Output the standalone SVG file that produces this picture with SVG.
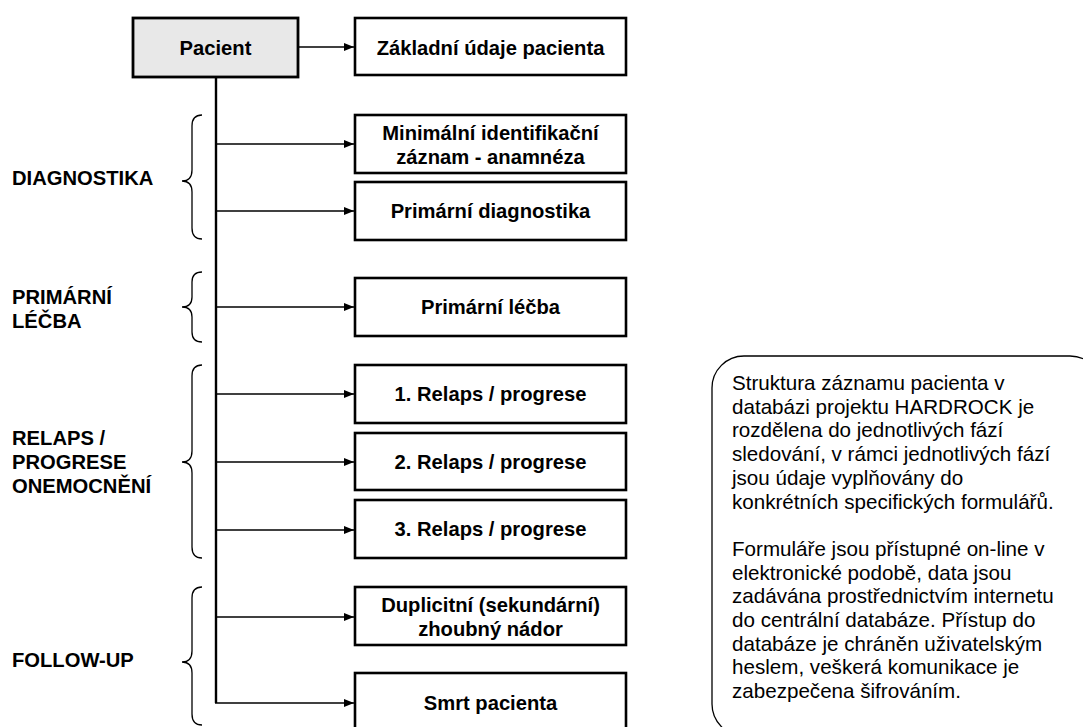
<svg xmlns="http://www.w3.org/2000/svg" width="1083" height="727" viewBox="0 0 1083 727">
<style>
.box{fill:#fff;stroke:#000;stroke-width:2.6}
.pac{fill:#e8e8e8;stroke:#000;stroke-width:2.8}
.bt{font-family:"Liberation Sans",Arial,sans-serif;font-weight:bold;font-size:20.2px;fill:#000;text-anchor:middle}
.lbl{font-family:"Liberation Sans",Arial,sans-serif;font-weight:bold;font-size:20.2px;fill:#000}
.note{font-family:"Liberation Sans",Arial,sans-serif;font-size:20.6px;fill:#000}
.con{fill:none;stroke:#000;stroke-width:1.6}
.trunk{fill:none;stroke:#000;stroke-width:2.4}
.brace{fill:none;stroke:#000;stroke-width:1.3}
</style>
<defs>
<marker id="ah" viewBox="0 0 10 8" refX="10" refY="4" markerWidth="10" markerHeight="8" markerUnits="userSpaceOnUse" orient="auto">
<path d="M0,0 L10,4 L0,8 Z" fill="#000"/>
</marker>
</defs>
<rect width="1083" height="727" fill="#fff"/>
<g id="connectors">
<line class="trunk" x1="216" y1="77" x2="216" y2="703"/>
<line class="con" x1="298" y1="47" x2="354" y2="47" marker-end="url(#ah)"/>
<line class="con" x1="216" y1="144" x2="354" y2="144" marker-end="url(#ah)"/>
<line class="con" x1="216" y1="211" x2="354" y2="211" marker-end="url(#ah)"/>
<line class="con" x1="216" y1="307" x2="354" y2="307" marker-end="url(#ah)"/>
<line class="con" x1="216" y1="394" x2="354" y2="394" marker-end="url(#ah)"/>
<line class="con" x1="216" y1="462" x2="354" y2="462" marker-end="url(#ah)"/>
<line class="con" x1="216" y1="530" x2="354" y2="530" marker-end="url(#ah)"/>
<line class="con" x1="216" y1="617" x2="354" y2="617" marker-end="url(#ah)"/>
<line class="con" x1="215" y1="703" x2="354" y2="703" marker-end="url(#ah)"/>
</g>
<g id="pacient"><rect class="pac" x="133" y="18" width="165" height="59"/><text class="bt" x="215.5" y="55">Pacient</text></g>
<g id="zakladni"><rect class="box" x="355" y="18" width="271" height="57"/><text class="bt" x="490.5" y="55">Základní údaje pacienta</text></g>
<g id="minimalni"><rect class="box" x="355" y="115" width="271" height="58"/><text class="bt" x="490.5" y="140">Minimální identifikační</text><text class="bt" x="490.5" y="164">záznam - anamnéza</text></g>
<g id="primdiag"><rect class="box" x="355" y="182" width="271" height="58"/><text class="bt" x="490.5" y="218">Primární diagnostika</text></g>
<g id="primlecba"><rect class="box" x="355" y="278" width="271" height="58"/><text class="bt" x="490.5" y="314">Primární léčba</text></g>
<g id="relaps1"><rect class="box" x="355" y="365" width="271" height="58"/><text class="bt" x="490.5" y="401">1. Relaps / progrese</text></g>
<g id="relaps2"><rect class="box" x="355" y="433" width="271" height="57"/><text class="bt" x="490.5" y="469">2. Relaps / progrese</text></g>
<g id="relaps3"><rect class="box" x="355" y="500" width="271" height="58"/><text class="bt" x="490.5" y="536">3. Relaps / progrese</text></g>
<g id="duplicitni"><rect class="box" x="355" y="587" width="271" height="58"/><text class="bt" x="490.5" y="612">Duplicitní (sekundární)</text><text class="bt" x="490.5" y="636">zhoubný nádor</text></g>
<g id="smrt"><rect class="box" x="355" y="673" width="271" height="58"/><text class="bt" x="490.5" y="710">Smrt pacienta</text></g>
<g id="braces">
<path class="brace" d="M202,115 Q192,115 192,126 L192,170 Q192,181 182,181 Q192,181 192,192 L192,228 Q192,239 202,239"/>
<path class="brace" d="M202,272 Q192,272 192,282 L192,297 Q192,307 182,307 Q192,307 192,317 L192,332 Q192,342 202,342"/>
<path class="brace" d="M202,365 Q192,365 192,376 L192,451 Q192,462 182,462 Q192,462 192,473 L192,547 Q192,558 202,558"/>
<path class="brace" d="M202,587 Q192,587 192,598 L192,651 Q192,662 182,662 Q192,662 192,673 L192,714 Q192,725 202,725"/>
</g>
<g id="labels">
<text class="lbl" x="12" y="185">DIAGNOSTIKA</text>
<text class="lbl" x="12" y="304">PRIMÁRNÍ</text>
<text class="lbl" x="12" y="328">LÉČBA</text>
<text class="lbl" x="12" y="445">RELAPS /</text>
<text class="lbl" x="12" y="469">PROGRESE</text>
<text class="lbl" x="12" y="493">ONEMOCNĚNÍ</text>
<text class="lbl" x="12" y="667">FOLLOW-UP</text>
</g>
<g id="note">
<rect x="712" y="356" width="390" height="380" rx="32" ry="32" fill="#fff" stroke="#000" stroke-width="1.3"/>
<text class="note" x="732" y="390">Struktura záznamu pacienta v</text>
<text class="note" x="732" y="413.7">databázi projektu HARDROCK je</text>
<text class="note" x="732" y="437.4">rozdělena do jednotlivých fází</text>
<text class="note" x="732" y="461.1">sledování, v rámci jednotlivých fází</text>
<text class="note" x="732" y="484.8">jsou údaje vyplňovány do</text>
<text class="note" x="732" y="508.5">konkrétních specifických formulářů.</text>
<text class="note" x="732" y="555.9">Formuláře jsou přístupné on-line v</text>
<text class="note" x="732" y="579.6">elektronické podobě, data jsou</text>
<text class="note" x="732" y="603.3">zadávána prostřednictvím internetu</text>
<text class="note" x="732" y="627">do centrální databáze. Přístup do</text>
<text class="note" x="732" y="650.7">databáze je chráněn uživatelským</text>
<text class="note" x="732" y="674.4">heslem, veškerá komunikace je</text>
<text class="note" x="732" y="698.1">zabezpečena šifrováním.</text>
</g>
</svg>
